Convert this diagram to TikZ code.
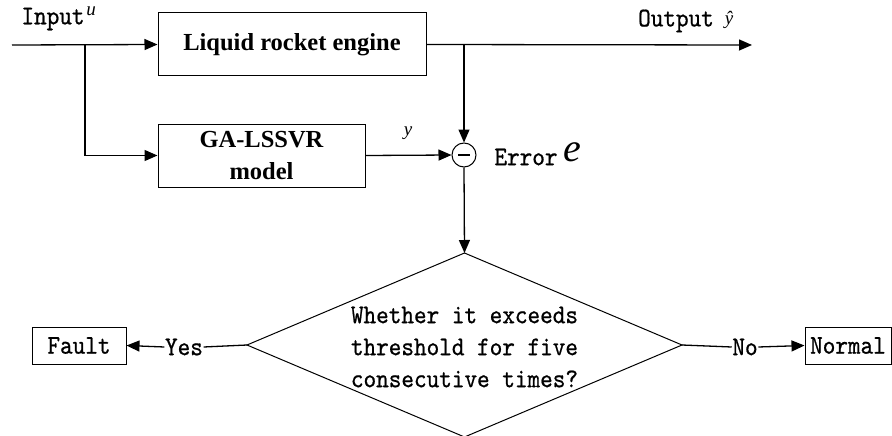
\documentclass[tikz,border=0pt]{standalone}
\usepackage{fontspec}
\setmainfont{Liberation Serif}
\newfontfamily\labelfont[FakeStretch=0.89,FakeBold=0.7]{lmmono10-regular.otf}
\usetikzlibrary{arrows.meta}

\begin{document}
\begin{tikzpicture}[x=1pt,y=-1pt,line width=1.3pt,
  tip/.style={-{Triangle[length=13pt,width=11pt]}},
  blk/.style={draw,line width=1pt,font=\fontsize{24.5}{32}\selectfont\bfseries,align=center,inner sep=0pt},
  smallbox/.style={draw,line width=1pt,font=\fontsize{27}{30}\selectfont\labelfont,inner sep=0pt,minimum height=37pt},
  lbl/.style={font=\fontsize{27}{30}\selectfont\labelfont,inner sep=0pt},
  var/.style={font=\fontsize{19}{20}\selectfont\itshape,inner sep=0pt}]
\useasboundingbox (0,0) rectangle (892,436);

% blocks
\node[blk,minimum width=268pt,minimum height=63pt] (engine) at (292,44.5) {Liquid rocket engine};
\node[blk,minimum width=207pt,minimum height=63pt] (ga) at (261.5,155.5) {GA-LSSVR\\model};
\node[draw,circle,line width=1pt,minimum size=24pt,inner sep=0pt] (sum) at (464,155) {};
\draw[line width=1.2pt] ([xshift=-6pt]sum.center) -- ([xshift=6pt]sum.center);

% decision diamond
\coordinate (diaN) at (464.5,253);
\coordinate (diaE) at (682,345);
\coordinate (diaS) at (464.5,437);
\coordinate (diaW) at (247,345);
\draw[line width=1pt] (diaN) -- (diaE) -- (diaS) -- (diaW) -- cycle;
\node[font=\fontsize{27}{32}\selectfont\labelfont,align=center,inner sep=0pt] (question) at (464.5,347)
  {Whether it exceeds\\threshold for five\\consecutive times?};

\node[smallbox,minimum width=94pt] (fault) at (79,345.5) {Fault};
\node[smallbox,minimum width=86pt] (normal) at (848,345.5) {Normal};

% labels
\node[lbl] (inlbl) at (53,19) {Input};
\node[var] (ulbl) at (91,11) {u};
\node[lbl] (outlbl) at (676,21) {Output};
\node[var] (yhat) at (729,20) {\^{y}};
\node[var] (ylbl) at (408,133) {y};
\node[lbl] (errlbl) at (526,157) {Error};
\node[font=\fontsize{40}{42}\selectfont\itshape,inner sep=0pt] (elbl) at (572,152) {e};
\node[lbl] (yes) at (184,347) {Yes};
\node[lbl] (no) at (745,347) {No};

% junction points
\coordinate (src) at (12,45);
\coordinate (split) at (85,45);
\coordinate (tap) at (464,45);
\coordinate (sink) at (752,45);

% connectors
\draw[tip] (src) -- (engine.west);
\draw[tip] (split) |- (ga.west);
\draw[tip] (engine.east) -- (sink);
\draw[tip] (tap) -- (sum.north);
\draw[tip] (ga.east) -- (sum.west);
\draw[tip] (sum.south) -- (diaN);
\draw (diaW) -- (yes.east);
\draw[tip] (yes.west) -- (fault.east);
\draw (diaE) -- (no.west);
\draw[tip] (no.east) -- (normal.west);
\end{tikzpicture}
\end{document}
